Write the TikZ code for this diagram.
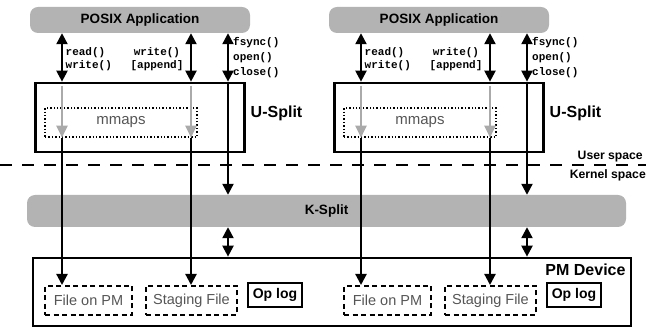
\documentclass[tikz,border=0pt]{standalone}
\usepackage{fontspec}
\setmainfont{Liberation Sans}
\setmonofont{Liberation Mono}
\usetikzlibrary{arrows.meta}
\definecolor{boxgray}{HTML}{B3B3B3}
\definecolor{arrgray}{HTML}{AAAAAA}
\definecolor{txtgray}{HTML}{555555}
\begin{document}
\begin{tikzpicture}[x=1pt,y=-1pt,
  graybar/.style={fill=boxgray,rounded corners=8pt,draw=none,inner sep=0pt,font=\fontsize{13.5}{16}\selectfont\bfseries},
  thickbox/.style={draw=black,line width=2.7pt,inner sep=0pt},
  mmbox/.style={draw=black,line width=1.4pt,dotted,inner sep=0pt,text=txtgray,font=\fontsize{15}{18}\selectfont},
  filebox/.style={draw=black,line width=2pt,dash pattern=on 5pt off 3.5pt,inner sep=0pt,text=txtgray,font=\fontsize{14.5}{17}\selectfont},
  logbox/.style={draw=black,line width=1.3pt,inner sep=0pt,font=\fontsize{14}{17}\selectfont\bfseries},
  biglabel/.style={font=\fontsize{16}{19}\selectfont\bfseries,inner sep=0pt},
  spacelabel/.style={font=\fontsize{12.2}{14}\selectfont\bfseries,inner sep=0pt},
  codelabel/.style={font=\fontsize{11}{12.5}\selectfont\ttfamily\bfseries,inner sep=0pt},
  tip/.tip={Triangle[width=11pt,length=11pt]},
  dblarrow/.style={line width=2.2pt,{tip}-{tip}},
  downarrow/.style={line width=2.2pt,-{tip}},
  grayarrow/.style={line width=2.2pt,draw=arrgray,-{Triangle[width=11pt,length=12pt]},shorten <=4pt},
]
\useasboundingbox (0,0) rectangle (646,328);

% shared parts
\node[graybar,minimum width=599pt,minimum height=32pt] (ks) at (326.5,211) {K-Split};
\node[thickbox,minimum width=598pt,minimum height=68pt] (pm) at (332,292) {};
\node[biglabel] (pmlabel) at (585.5,270) {PM Device};
\coordinate (sepL) at (0,165);
\coordinate (sepR) at (646,165);
\draw[line width=1.6pt,dash pattern=on 12pt off 10pt] (sepL) -- (sepR);
\node[spacelabel,anchor=east] (user) at (643,157) {User space};
\node[spacelabel,anchor=east] (kernel) at (646,175) {Kernel space};

\foreach \s/\dx in {L/0,R/299}{
  \begin{scope}[xshift=\dx pt]
    \node[graybar,minimum width=220pt,minimum height=26pt] (app\s) at (140,20) {POSIX Application};
    \node[thickbox,minimum width=209pt,minimum height=69pt] (us\s) at (140,117.5) {};
    \node[biglabel] (uslabel\s) at (276.5,113) {U-Split};
    \node[mmbox,minimum width=152pt,minimum height=29pt] (mm\s) at (121,122.5) {mmaps};
    \node[filebox,minimum width=87pt,minimum height=29pt] (file\s) at (88.5,300.5) {File on PM};
    \node[filebox,minimum width=91pt,minimum height=29pt] (stage\s) at (191.5,300.5) {Staging File};
    \node[logbox,minimum width=54pt,minimum height=24pt] (log\s) at (275,295) {Op log};
    \coordinate (c1\s) at (62,0);
    \coordinate (c2\s) at (191,0);
    \coordinate (c3\s) at (228,0);
    \node[codelabel,anchor=west,align=left] (rw\s) at (65.5,59) {read()\\write()};
    \node[codelabel,align=center] (wa\s) at (157,59) {write()\\{[append]}};
    \node[codelabel,anchor=west,align=left,font=\fontsize{11}{15}\selectfont\ttfamily\bfseries] (fo\s) at (233,58) {fsync()\\open()\\close()};
  \end{scope}
  % connectors
  \draw[dblarrow] (c1\s |- app\s.south) -- (c1\s |- us\s.north);
  \draw[dblarrow] (c2\s |- app\s.south) -- (c2\s |- us\s.north);
  \draw[dblarrow] (c3\s |- app\s.south) -- (c3\s |- us\s.north);
  \draw[grayarrow] (c1\s |- us\s.north) -- (c1\s |- mm\s.south);
  \draw[grayarrow] (c2\s |- us\s.north) -- (c2\s |- mm\s.south);
  \draw[downarrow] (c1\s |- mm\s.south) -- (c1\s |- file\s.north);
  \draw[downarrow] (c2\s |- mm\s.south) -- (c2\s |- stage\s.north);
  \draw[downarrow] (c3\s |- us\s.north) -- (c3\s |- ks.north);
  \draw[dblarrow] (c3\s |- ks.south) -- (c3\s |- pm.north);
}
\end{tikzpicture}
\end{document}
